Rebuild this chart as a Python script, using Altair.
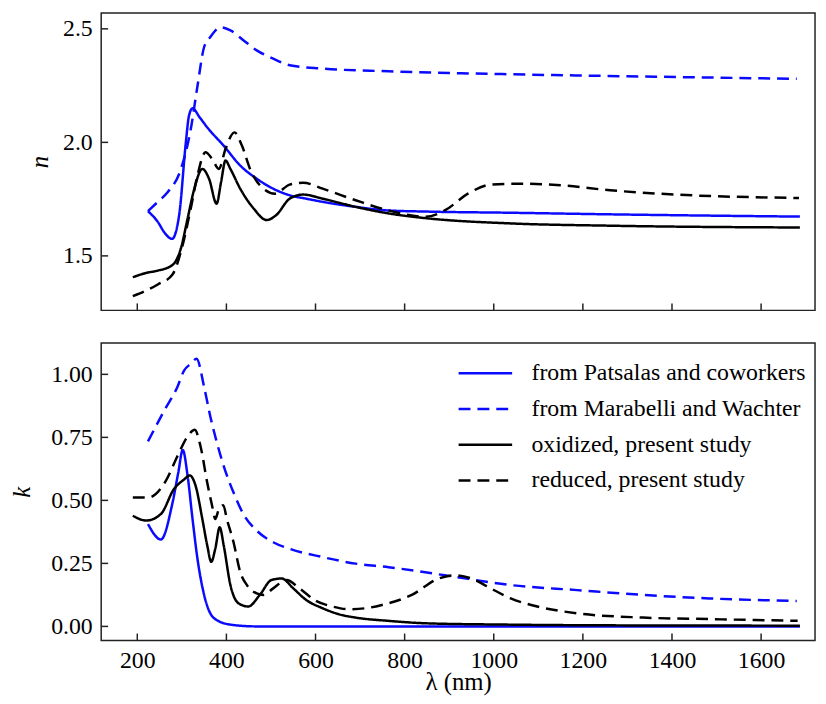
import altair as alt
import pandas as pd

SERIES = ["from Patsalas and coworkers", "from Marabelli and Wachter",
          "oxidized, present study", "reduced, present study"]
COLORS = ["#0a0aff", "#0a0aff", "#000000", "#000000"]
DASHES = [[1, 0], [12, 7], [1, 0], [12, 7]]

X_TICKS = [200, 400, 600, 800, 1000, 1200, 1400, 1600]
N_TICKS = [1.5, 2.0, 2.5]
K_TICKS = [0.0, 0.25, 0.5, 0.75, 1.0]
X_DOMAIN = [119, 1721]
N_DOMAIN = [1.26, 2.57]
K_DOMAIN = [-0.056, 1.124]

# ---- refractive index n ----
PAT_N_LAM = [224, 246, 262, 278, 294, 309, 316, 324, 340, 357, 394, 431, 468, 505, 542, 579, 616, 690, 764, 853, 1038, 1261, 1500, 1687]
PAT_N = [1.697, 1.65, 1.60, 1.575, 1.68, 2.00, 2.117, 2.15, 2.11, 2.066, 1.985, 1.898, 1.84, 1.796, 1.767, 1.752, 1.738, 1.716, 1.70, 1.695, 1.69, 1.683, 1.677, 1.673]

MAR_N_LAM = [224, 246, 268, 298, 320, 335, 350, 364, 387, 409, 438, 468, 505, 542, 616, 764, 1038, 1335, 1680]
MAR_N = [1.697, 1.738, 1.78, 1.883, 2.058, 2.247, 2.42, 2.464, 2.507, 2.493, 2.45, 2.405, 2.369, 2.34, 2.325, 2.313, 2.30, 2.29, 2.28]

OX_N_LAM = [190, 220, 246, 279, 298, 313, 328, 346, 361, 378, 388, 398, 409, 431, 461, 490, 512, 542, 572, 616, 690, 764, 853, 1038, 1261, 1687]
OX_N = [1.406, 1.425, 1.435, 1.46, 1.534, 1.665, 1.796, 1.883, 1.84, 1.73, 1.825, 1.92, 1.883, 1.796, 1.709, 1.658, 1.68, 1.752, 1.77, 1.752, 1.716, 1.687, 1.665, 1.643, 1.633, 1.625]

RED_N_LAM = [190, 246, 279, 300, 320, 335, 353, 368, 383, 398, 418, 435, 453, 483, 509, 542, 572, 616, 690, 764, 846, 890, 942, 994, 1053, 1150, 1261, 1409, 1685]
RED_N = [1.323, 1.374, 1.418, 1.534, 1.709, 1.854, 1.956, 1.927, 1.883, 1.971, 2.044, 1.985, 1.883, 1.796, 1.774, 1.814, 1.822, 1.796, 1.745, 1.70, 1.672, 1.70, 1.774, 1.814, 1.818, 1.811, 1.789, 1.77, 1.755]

# ---- extinction coefficient k ----
PAT_K_LAM = [224, 253, 279, 292, 302, 313, 324, 335, 350, 372, 409, 468, 600, 1000, 1687]
PAT_K = [0.406, 0.345, 0.49, 0.61, 0.70, 0.596, 0.426, 0.269, 0.125, 0.033, 0.007, 0.0, 0.0, 0.0, 0.0]

MAR_K_LAM = [224, 261, 290, 305, 320, 333, 350, 364, 379, 394, 416, 438, 468, 505, 542, 616, 690, 764, 890, 1038, 1187, 1335, 1483, 1680]
MAR_K = [0.734, 0.858, 0.95, 1.015, 1.042, 1.062, 0.95, 0.832, 0.727, 0.636, 0.531, 0.446, 0.38, 0.334, 0.308, 0.275, 0.249, 0.235, 0.203, 0.164, 0.144, 0.125, 0.111, 0.101]

OX_K_LAM = [190, 220, 253, 282, 305, 318, 331, 346, 357, 366, 375, 385, 394, 409, 427, 449, 475, 501, 524, 550, 579, 616, 653, 690, 764, 853, 1038, 1300, 1687]
OX_K = [0.439, 0.42, 0.446, 0.544, 0.583, 0.599, 0.557, 0.426, 0.321, 0.256, 0.308, 0.393, 0.321, 0.164, 0.092, 0.079, 0.125, 0.184, 0.19, 0.151, 0.105, 0.072, 0.048, 0.035, 0.022, 0.012, 0.007, 0.004, 0.003]

RED_K_LAM = [190, 224, 264, 290, 313, 329, 342, 357, 368, 375, 383, 393, 401, 416, 431, 446, 468, 483, 505, 535, 564, 601, 638, 675, 712, 749, 816, 876, 913, 950, 987, 1038, 1098, 1187, 1335, 1483, 1682]
RED_K = [0.511, 0.511, 0.577, 0.675, 0.754, 0.78, 0.714, 0.57, 0.478, 0.426, 0.465, 0.481, 0.426, 0.334, 0.216, 0.164, 0.131, 0.125, 0.151, 0.184, 0.151, 0.101, 0.079, 0.068, 0.072, 0.085, 0.125, 0.19, 0.203, 0.19, 0.157, 0.111, 0.079, 0.052, 0.035, 0.029, 0.022]


def frame(pairs):
    rows = []
    for name, lams, vals in pairs:
        for l, v in zip(lams, vals):
            rows.append({"series": name, "lam": l, "v": v})
    return pd.DataFrame(rows)


df_n = frame([(SERIES[0], PAT_N_LAM, PAT_N), (SERIES[1], MAR_N_LAM, MAR_N),
              (SERIES[2], OX_N_LAM, OX_N), (SERIES[3], RED_N_LAM, RED_N)])
df_k = frame([(SERIES[0], PAT_K_LAM, PAT_K), (SERIES[1], MAR_K_LAM, MAR_K),
              (SERIES[2], OX_K_LAM, OX_K), (SERIES[3], RED_K_LAM, RED_K)])

W, H = 720, 300
FONT = "Liberation Serif, Times New Roman, Times, Nimbus Roman, DejaVu Serif, serif"


def panel(df, yticks, ydom, ytitle, yfmt, bottom, title_pad):
    xscale = alt.Scale(domain=X_DOMAIN, nice=False, zero=False)
    yscale = alt.Scale(domain=ydom, nice=False, zero=False)
    if bottom:
        xaxis = alt.Axis(values=X_TICKS, format="d", title="λ (nm)", ticks=False,
                         domain=False, grid=False, labelPadding=8, titlePadding=-3,
                         labelFlush=False)
        leg = alt.Legend(title=None, orient="none", legendX=368, legendY=11,
                         symbolType="M-1.5,0H1.5", symbolSize=1296,
                         symbolStrokeWidth=2.5, labelFont=FONT, labelFontSize=24,
                         labelColor="black", labelOffset=27, rowPadding=4,
                         padding=0, labelLimit=400)
    else:
        xaxis = alt.Axis(values=X_TICKS, title=None, ticks=False, domain=False,
                         grid=False, labels=False)
        leg = None
    yaxis = alt.Axis(values=yticks, format=yfmt, title=ytitle, ticks=False,
                     domain=False, grid=False, labelPadding=9, titlePadding=title_pad,
                     titleFontStyle="italic", labelFlush=False)
    lines = alt.Chart(df).mark_line(strokeWidth=2.5, interpolate="monotone").encode(
        x=alt.X("lam:Q", scale=xscale, axis=xaxis),
        y=alt.Y("v:Q", scale=yscale, axis=yaxis),
        color=alt.Color("series:N", scale=alt.Scale(domain=SERIES, range=COLORS), legend=leg),
        strokeDash=alt.StrokeDash("series:N", scale=alt.Scale(domain=SERIES, range=DASHES), legend=leg),
    )
    xt = alt.Chart(pd.DataFrame({"lam": X_TICKS})).mark_rule(color="#222", strokeWidth=1.5).encode(
        x=alt.X("lam:Q", scale=xscale, axis=xaxis),
        y=alt.value(H - 7), y2=alt.value(H),
    )
    yt = alt.Chart(pd.DataFrame({"v": yticks})).mark_rule(color="#222", strokeWidth=1.5).encode(
        y=alt.Y("v:Q", scale=yscale, axis=yaxis),
        x=alt.value(0), x2=alt.value(7),
    )
    return alt.layer(lines, xt, yt).properties(width=W, height=H)


top = panel(df_n, N_TICKS, N_DOMAIN, "n", ".1f", False, 10)
bot = panel(df_k, K_TICKS, K_DOMAIN, "k", ".2f", True, 16)

chart = alt.vconcat(top, bot, spacing=30).resolve_scale(
    color="independent", strokeDash="independent"
).properties(
    padding={"left": 1, "top": 1, "right": 2, "bottom": 2},
    background="white",
).configure_axis(
    labelFont=FONT, labelFontSize=24, labelColor="black",
    titleFont=FONT, titleFontSize=25, titleFontWeight="normal", titleColor="black",
).configure_legend(
    labelFont=FONT
).configure_view(
    stroke="#222", strokeWidth=1.5
)

chart.save("out.html", embed_options={"renderer": "svg", "actions": False})
